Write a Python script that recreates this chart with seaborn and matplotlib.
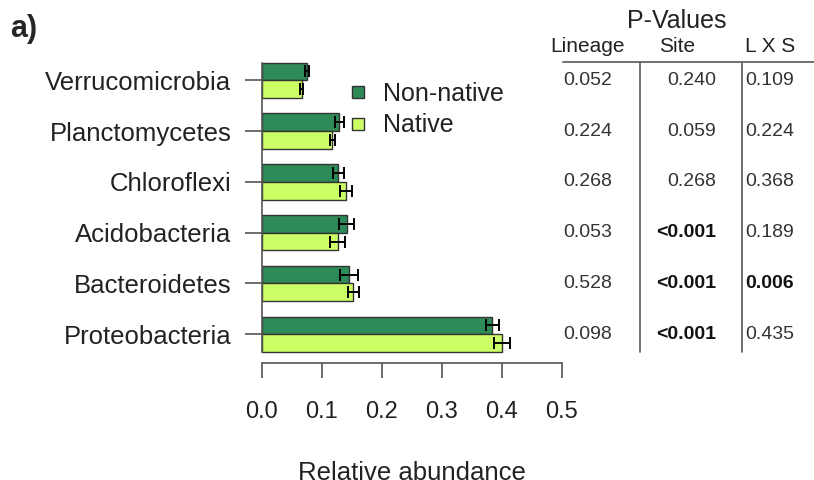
import matplotlib
matplotlib.use("Agg")
import matplotlib.pyplot as plt
import matplotlib.transforms as mtransforms
from matplotlib.lines import Line2D
import seaborn as sns
import pandas as pd

# ---- data ----
categories = ["Verrucomicrobia", "Planctomycetes", "Chloroflexi",
              "Acidobacteria", "Bacteroidetes", "Proteobacteria"]
groups = ["Non-native", "Native"]
nonnative_mean = [0.075, 0.129, 0.127, 0.141, 0.145, 0.384]
nonnative_err = [0.004, 0.007, 0.009, 0.013, 0.015, 0.011]
native_mean = [0.066, 0.117, 0.140, 0.126, 0.152, 0.400]
native_err = [0.003, 0.004, 0.010, 0.012, 0.009, 0.013]
xticks = [0.0, 0.1, 0.2, 0.3, 0.4, 0.5]
xlabel = "Relative abundance"

pv_lineage = ["0.052", "0.224", "0.268", "0.053", "0.528", "0.098"]
pv_site = ["0.240", "0.059", "0.268", "<0.001", "<0.001", "<0.001"]
pv_lxs = ["0.109", "0.224", "0.368", "0.189", "0.006", "0.435"]
pv_site_bold = [False, False, False, True, True, True]
pv_lxs_bold = [False, False, False, False, True, False]

colors = {"Non-native": "#2E8B57", "Native": "#CCFF66"}

df = pd.DataFrame({
    "category": categories * 2,
    "group": [groups[0]] * len(categories) + [groups[1]] * len(categories),
    "value": nonnative_mean + native_mean,
})
errs = {"Non-native": nonnative_err, "Native": native_err}

# ---- figure ----
W, H = 814, 480
sns.set_style("white")
plt.rcParams["font.family"] = ["Liberation Sans", "DejaVu Sans"]
fig = plt.figure(figsize=(W / 100, H / 100), dpi=100)

def fx(px):
    return px / W

def fy(py):
    return 1 - py / H

ax = fig.add_axes([fx(262), fy(363), fx(562) - fx(262), fy(55) - fy(363)])
sns.barplot(data=df, x="value", y="category", hue="group", orient="h",
            hue_order=groups, order=categories, palette=colors, saturation=1,
            width=0.7, edgecolor="#333333", linewidth=1.0,
            errorbar=None, legend=False, ax=ax)

for container, g in zip(ax.containers, groups):
    ys = [p.get_y() + p.get_height() / 2 for p in container.patches]
    xs = [p.get_width() for p in container.patches]
    ax.errorbar(xs, ys, xerr=errs[g], fmt="none", ecolor="black",
                elinewidth=1.4, capsize=4.5, capthick=1.4, zorder=5)

ax.set_xlim(0, 0.5)
ax.set_ylim(5.565, -0.498)
ax.set_xticks(xticks)
ax.set_xticklabels([f"{t:.1f}" for t in xticks])
ax.set_xlabel("")
ax.set_ylabel("")
for s in ["top", "right"]:
    ax.spines[s].set_visible(False)
for s in ["left", "bottom"]:
    ax.spines[s].set_color("#555555")
    ax.spines[s].set_linewidth(1.2)
ax.spines["left"].set_bounds(-0.35, 5.35)
ax.spines["bottom"].set_bounds(0, 0.5)
ax.tick_params(axis="y", length=12, width=1.2, color="#555555", pad=10,
               labelsize=18.5, labelcolor="#222222", left=True)
ax.tick_params(axis="x", length=11, width=1.2, color="#555555", pad=16,
               labelsize=17, labelcolor="#222222", bottom=True, direction="out")

fig.text(fx(412), fy(461), xlabel, ha="center", va="top", fontsize=18.5, color="#222222")
fig.text(fx(10), fy(14), "a)", ha="left", va="top", fontsize=22, fontweight="bold")

# legend
handles = [Line2D([], [], marker="s", ls="", markerfacecolor=colors[g],
                  markeredgecolor="#333333", markersize=8) for g in groups]
fig.legend(handles, groups, loc="upper left",
           bbox_to_anchor=(fx(348), fy(82)), bbox_transform=fig.transFigure,
           frameon=False, fontsize=18, handlelength=0.8, handletextpad=0.6,
           labelspacing=0.3, borderpad=0, borderaxespad=0,
           labelcolor="#222222")

# p-value table
tr = mtransforms.blended_transform_factory(fig.transFigure, ax.transData)
fig.text(fx(677), fy(21), "P-Values", ha="center", va="center", fontsize=18, color="#222222")
for lab, x in zip(["Lineage", "Site", "L X S"], [587, 677, 770]):
    fig.text(fx(x), fy(47), lab, ha="center", va="center", fontsize=15, color="#222222")
fig.add_artist(Line2D([fx(563), fx(814)], [fy(62), fy(62)], color="#666666", lw=1.3,
                      transform=fig.transFigure))
for x in [640, 742]:
    fig.add_artist(Line2D([fx(x), fx(x)], [fy(62), fy(352)], color="#666666", lw=1.3,
                          transform=fig.transFigure))
for i in range(len(categories)):
    ax.text(fx(588), i, pv_lineage[i], transform=tr, ha="center", va="center",
            fontsize=14, color="#333333")
    ax.text(fx(716), i, pv_site[i], transform=tr, ha="right", va="center",
            fontsize=14, color="#111111" if pv_site_bold[i] else "#333333",
            fontweight="bold" if pv_site_bold[i] else "normal")
    ax.text(fx(745), i, pv_lxs[i], transform=tr, ha="left", va="center",
            fontsize=14, color="#111111" if pv_lxs_bold[i] else "#333333",
            fontweight="bold" if pv_lxs_bold[i] else "normal")

fig.savefig("out.png", dpi=100)
